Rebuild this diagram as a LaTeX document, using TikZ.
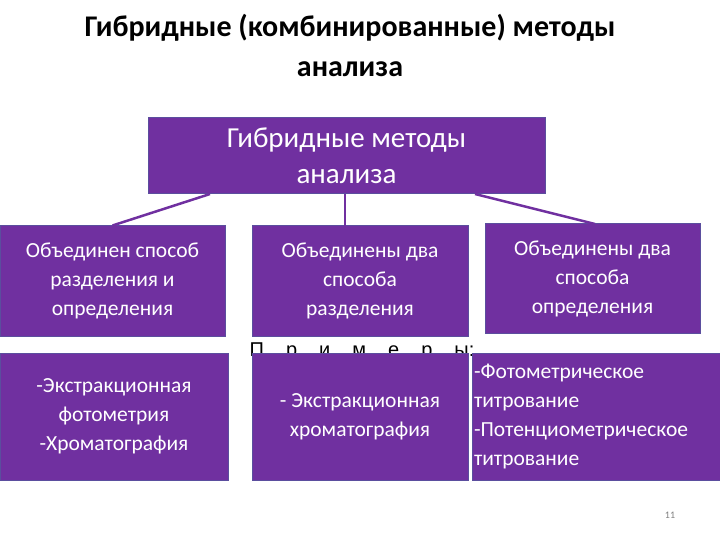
\documentclass[tikz,border=0pt]{standalone}
\usepackage{fontspec}
\setmainfont{Carlito}
\newfontfamily\arialf{Liberation Sans}
\definecolor{purp}{HTML}{7030A0}
\definecolor{edge}{HTML}{5B4E9E}
\begin{document}
\begin{tikzpicture}[x=1pt,y=-1pt,
  box/.style={draw=edge,line width=1pt,fill=purp,text=white,align=center,inner sep=2pt,font=\fontsize{21.5}{29}\selectfont},
  conn/.style={draw=purp,line width=2.5pt}]
\useasboundingbox (0,0) rectangle (720,540);
\node[align=center,font=\bfseries\fontsize{30}{40}\selectfont] (title) at (350,45) {Гибридные (комбинированные) методы\\анализа};
\node[box,minimum width=397pt,minimum height=76pt,font=\fontsize{29}{36}\selectfont] (top) at (346.5,156) {Гибридные методы\\анализа};
\node[box,minimum width=225pt,minimum height=110pt] (m1) at (112.5,281) {Объединен способ\\разделения и\\определения};
\node[box,minimum width=216pt,minimum height=110pt] (m2) at (360,281) {Объединены два\\способа\\разделения};
\node[box,minimum width=215pt,minimum height=109pt] (m3) at (592.5,278.5) {Объединены два\\способа\\определения};
\node[font=\arialf\fontsize{20}{22}\selectfont] (ex) at (362,352) {П\hspace{22pt}р\hspace{22pt}и\hspace{22pt}м\hspace{22pt}е\hspace{22pt}р\hspace{22pt}ы:};
\node[box,minimum width=228pt,minimum height=127pt] (b1) at (114,416.5) {-Экстракционная\\фотометрия\\-Хроматография};
\node[box,minimum width=216pt,minimum height=127pt] (b2) at (360,416.5) {- Экстракционная\\хроматография};
\node[box,minimum width=250pt,minimum height=127pt,align=left,text width=246pt,inner sep=1pt] (b3) at (597,416.5) {-Фотометрическое\\титрование\\-Потенциометрическое\\титрование};
\coordinate (tm) at (345,194);
\coordinate (mm) at (345,226);
\draw[conn] (210,194) -- (m1.north);
\draw[conn] (tm) -- (mm);
\draw[conn] (475,194) -- (595,224);
\node[text=gray,font=\fontsize{10}{12}\selectfont] (pg) at (670,515) {11};
\end{tikzpicture}
\end{document}
